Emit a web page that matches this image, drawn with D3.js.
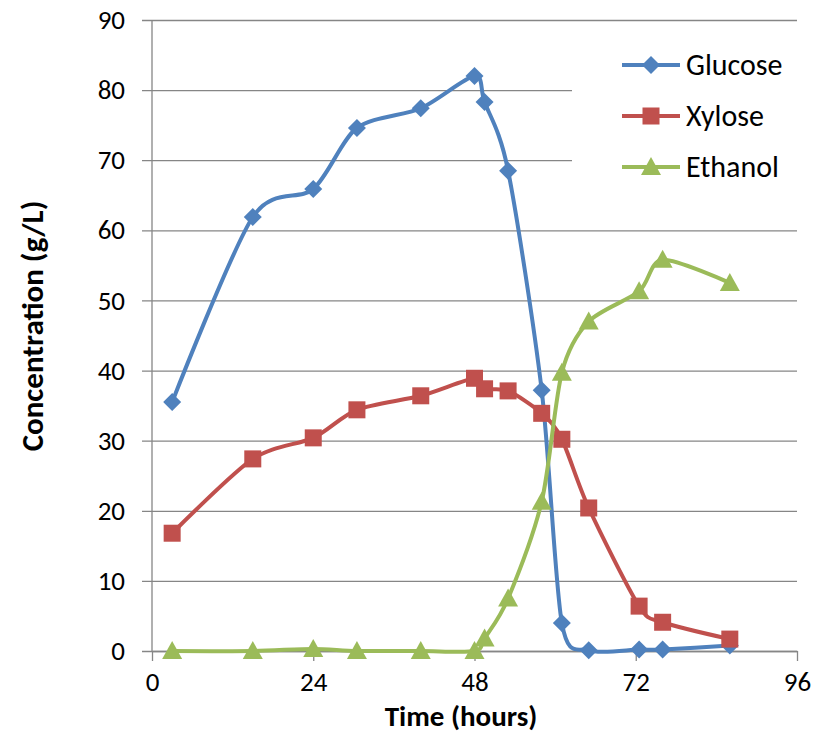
<!DOCTYPE html>
<html>
<head>
<meta charset="utf-8">
<script src="https://cdn.jsdelivr.net/npm/d3@7"></script>
<style>
  body { margin: 0; background: #fff; }
  svg text { font-family: Carlito, "Open Sans", "Liberation Sans", sans-serif; fill: #000; }
</style>
</head>
<body>
<svg id="chart" width="829" height="736"></svg>
<script>
// Sampling times (hours)
const time = [3, 15, 24, 30.5, 40, 48, 49.5, 53, 58, 61, 65, 72.5, 76, 86];
// Concentrations (g/L)
const glucose = [35.5, 61.9, 65.9, 74.6, 77.4, 82.0, 78.3, 68.5, 37.2, 4.0, 0.1, 0.2, 0.2, 0.8];
const xylose  = [16.8, 27.4, 30.4, 34.4, 36.4, 38.9, 37.4, 37.1, 33.9, 30.2, 20.4, 6.4, 4.1, 1.7];
const ethanol = [0.0, 0.0, 0.3, 0.0, 0.0, 0.0, 1.8, 7.5, 21.3, 39.7, 47.0, 51.3, 55.8, 52.5];

const seriesNames = ["Glucose", "Xylose", "Ethanol"];
const seriesColors = ["#4F81BD", "#C0504D", "#9BBB59"];
const seriesValues = [glucose, xylose, ethanol];
const markerShapes = ["diamond", "square", "triangle"];

const xTicks = [0, 24, 48, 72, 96];
const yTicks = [0, 10, 20, 30, 40, 50, 60, 70, 80, 90];

const svg = d3.select("#chart");
const margin = { left: 152, right: 32, top: 20, bottom: 85 };
const W = 829, H = 736;

const x = d3.scaleLinear().domain([0, 96]).range([margin.left, W - margin.right]);
const y = d3.scaleLinear().domain([0, 90]).range([H - margin.bottom, margin.top]);

const axisColor = "#868686";
const tickFont = 27;

// Horizontal gridlines with outer ticks on the left
const yAxis = d3.axisLeft(y).tickValues(yTicks).tickSize(-(x(96) - x(0))).tickSizeOuter(0).tickPadding(27);
const gy = svg.append("g").attr("transform", `translate(${x(0)},0)`).call(yAxis);
gy.select(".domain").remove();
gy.selectAll(".tick line").attr("stroke", axisColor).attr("stroke-width", 1.3).attr("x1", -10);
gy.selectAll(".tick text").attr("font-size", tickFont).attr("font-family", 'Carlito, "Open Sans", sans-serif');

// Vertical axis line
svg.append("line").attr("x1", x(0)).attr("x2", x(0)).attr("y1", y(90)).attr("y2", y(0))
  .attr("stroke", axisColor).attr("stroke-width", 1.3);

// Legend background sits over the gridlines
svg.append("rect").attr("x", 572).attr("y", 40).attr("width", 226).attr("height", 155).attr("fill", "#fff");

// X axis
const xAxis = d3.axisBottom(x).tickValues(xTicks).tickSize(10).tickSizeOuter(0).tickPadding(11);
const gx = svg.append("g").attr("transform", `translate(0,${y(0)})`).call(xAxis);
gx.select(".domain").attr("stroke", axisColor).attr("stroke-width", 1.3);
gx.selectAll(".tick line").attr("stroke", axisColor).attr("stroke-width", 1.3);
gx.selectAll(".tick text").attr("font-size", tickFont).attr("font-family", 'Carlito, "Open Sans", sans-serif');

// Axis titles
svg.append("text").attr("x", 461).attr("y", 726).attr("text-anchor", "middle")
  .attr("font-size", 29).attr("font-weight", "bold").text("Time (hours)");
svg.append("text").attr("transform", `translate(43,326) rotate(-90)`)
  .attr("text-anchor", "middle").attr("font-size", 31).attr("font-weight", "bold").text("Concentration (g/L)");

// Marker drawing
function drawMarker(g, shape, cx, cy, color) {
  if (shape === "diamond") {
    const s = 9;
    g.append("path").attr("d", `M${cx},${cy - s}L${cx + s},${cy}L${cx},${cy + s}L${cx - s},${cy}Z`).attr("fill", color);
  } else if (shape === "square") {
    const s = 8.5;
    g.append("rect").attr("x", cx - s).attr("y", cy - s).attr("width", 2 * s).attr("height", 2 * s).attr("fill", color);
  } else {
    const s = 10;
    g.append("path").attr("d", `M${cx},${cy - s}L${cx + s},${cy + s * 0.8}L${cx - s},${cy + s * 0.8}Z`).attr("fill", color);
  }
}

const line = d3.line().x(d => x(d[0])).y(d => y(d[1])).curve(d3.curveCardinal.tension(0.15));

seriesValues.forEach((vals, i) => {
  const pts = time.map((t, j) => [t, vals[j]]);
  const g = svg.append("g");
  g.append("path").attr("d", line(pts)).attr("fill", "none")
    .attr("stroke", seriesColors[i]).attr("stroke-width", 4).attr("stroke-linejoin", "round");
  pts.forEach(p => drawMarker(g, markerShapes[i], x(p[0]), y(p[1]), seriesColors[i]));
});

// Legend
seriesNames.forEach((name, i) => {
  const ly = 65 + i * 51;
  const g = svg.append("g");
  g.append("line").attr("x1", 622).attr("x2", 680).attr("y1", ly).attr("y2", ly)
    .attr("stroke", seriesColors[i]).attr("stroke-width", 4);
  drawMarker(g, markerShapes[i], 651, ly, seriesColors[i]);
  g.append("text").attr("x", 686).attr("y", ly + 10).attr("font-size", 30).text(name);
});
</script>
</body>
</html>
